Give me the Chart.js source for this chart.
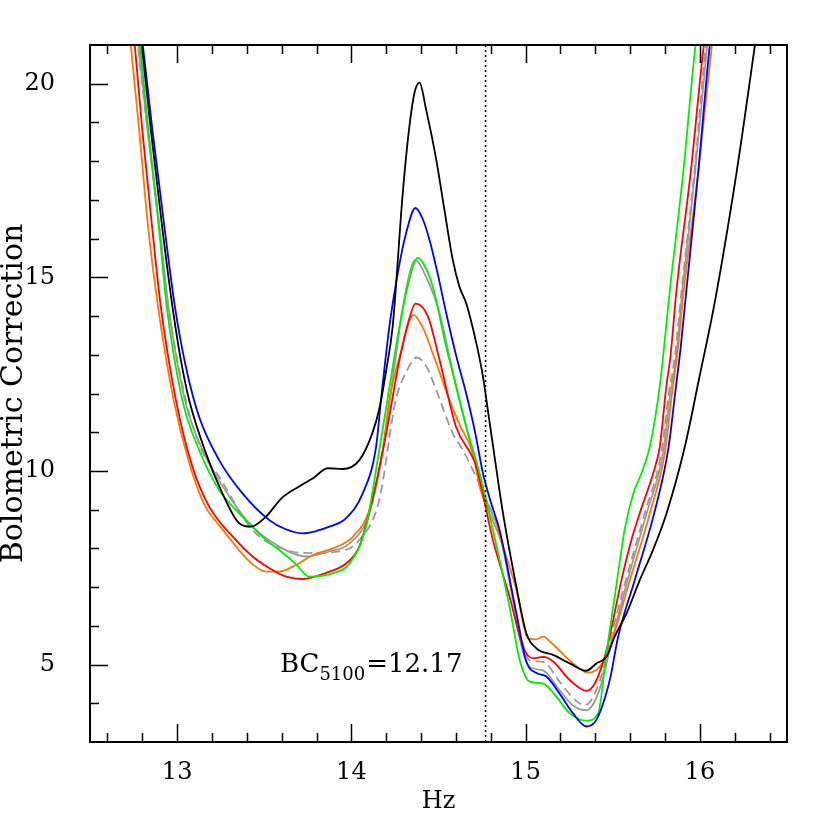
<!DOCTYPE html>
<html>
<head>
<meta charset="utf-8">
<script src="https://cdn.jsdelivr.net/npm/chart.js@4.4.0/dist/chart.umd.min.js"></script>
<style>
    html, body { margin: 0; padding: 0; background: #fff; }
    #wrap { width: 830px; height: 830px; }
</style>
</head>
<body>
<div id="wrap"><canvas id="bcChart" width="830" height="830"></canvas></div>
<script>
// axis ranges and labelled ticks
var xMin = 12.5, xMax = 16.5;
var yMin = 3, yMax = 21;
var xTicks = [13, 14, 15, 16];
var yTicks = [5, 10, 15, 20];
var nu5100 = 14.77;

// curves (log nu, BC)
var blackX = [12.775, 12.797, 12.849, 12.916, 12.973, 13.02, 13.069, 13.165, 13.26, 13.356, 13.424, 13.51, 13.6, 13.7, 13.78, 13.864, 13.95, 14.046, 14.12, 14.16, 14.2, 14.237, 14.295, 14.333, 14.362, 14.391, 14.429, 14.487, 14.534, 14.582, 14.62, 14.659, 14.717, 14.755, 14.783, 14.83, 14.87, 14.947, 15.004, 15.062, 15.158, 15.253, 15.349, 15.406, 15.464, 15.511, 15.579, 15.655, 15.73, 15.809, 15.914, 15.994, 16.088, 16.21, 16.316, 16.34];
var blackY = [22, 21, 18.81, 16.23, 14.25, 12.9, 11.83, 10.46, 9.42, 8.65, 8.56, 8.82, 9.3, 9.6, 9.81, 10.07, 10.05, 10.28, 10.97, 11.6, 12.6, 13.73, 17.18, 18.9, 19.76, 20.03, 19.33, 18.04, 16.74, 15.45, 14.76, 14.33, 13.3, 12.44, 11.58, 10.11, 8.91, 7.01, 5.81, 5.42, 5.25, 5.03, 4.84, 5.03, 5.2, 5.72, 6.32, 7.18, 7.95, 8.91, 10.63, 12.35, 14.42, 17.69, 21, 21.8];

var blueX = [12.78, 12.803, 12.858, 12.929, 12.987, 13.05, 13.126, 13.241, 13.375, 13.529, 13.62, 13.72, 13.8, 13.874, 13.97, 14.065, 14.142, 14.17, 14.218, 14.27, 14.314, 14.368, 14.41, 14.448, 14.5, 14.544, 14.6, 14.659, 14.71, 14.755, 14.8, 14.85, 14.947, 15.004, 15.062, 15.119, 15.195, 15.272, 15.349, 15.406, 15.483, 15.531, 15.626, 15.738, 15.82, 15.858, 15.89, 15.923, 15.99, 16.057, 16.08];
var blueY = [22, 21, 18.81, 16.23, 14.25, 12.69, 11.4, 10.28, 9.42, 8.73, 8.5, 8.39, 8.45, 8.56, 8.78, 9.42, 10.63, 11.83, 13.73, 15.2, 16.14, 16.79, 16.5, 15.97, 15.0, 14.08, 13.0, 12.0, 11.0, 9.94, 9.2, 8.48, 6.32, 5.08, 4.78, 4.69, 4.25, 3.74, 3.4, 3.57, 4.6, 5.72, 7.18, 8.91, 10.6, 12.0, 13.2, 14.68, 17.69, 21, 21.8];

var greenX = [12.765, 12.787, 12.835, 12.897, 12.94, 13.03, 13.126, 13.241, 13.375, 13.51, 13.586, 13.68, 13.759, 13.893, 13.989, 14.084, 14.16, 14.22, 14.276, 14.33, 14.381, 14.42, 14.467, 14.544, 14.6, 14.659, 14.736, 14.812, 14.908, 14.966, 15.023, 15.1, 15.176, 15.253, 15.349, 15.416, 15.464, 15.525, 15.569, 15.617, 15.665, 15.713, 15.77, 15.828, 15.904, 15.975, 16.0];
var greenY = [22, 21, 18.81, 16.23, 14.25, 11.83, 10.54, 9.51, 8.82, 8.22, 7.96, 7.6, 7.27, 7.36, 7.61, 8.56, 10.54, 12.2, 13.73, 14.9, 15.5, 15.3, 14.76, 13.21, 12.2, 11.15, 9.94, 8.48, 6.49, 5.12, 4.56, 4.51, 4.17, 3.74, 3.55, 3.74, 5.3, 7.18, 8.5, 9.4, 9.94, 10.63, 12.2, 14.68, 17.69, 21, 21.8];

var grayX = [12.756, 12.778, 12.83, 12.9, 12.95, 13.045, 13.14, 13.241, 13.433, 13.586, 13.74, 13.874, 13.989, 14.103, 14.18, 14.25, 14.31, 14.368, 14.42, 14.506, 14.58, 14.65, 14.77, 14.85, 14.93, 14.98, 15.023, 15.1, 15.195, 15.27, 15.349, 15.42, 15.5, 15.585, 15.695, 15.79, 15.83, 15.864, 15.9, 15.972, 16.042, 16.06];
var grayY = [22, 21, 18.81, 16.23, 14.25, 11.83, 10.6, 9.75, 8.56, 8.05, 7.79, 7.92, 8.13, 8.9, 10.54, 12.8, 14.6, 15.45, 15.1, 14.08, 12.6, 11.3, 9.3, 8.4, 6.6, 5.4, 4.94, 4.85, 4.34, 3.95, 3.82, 4.3, 5.7, 7.18, 8.91, 10.5, 12.0, 12.95, 14.68, 17.69, 21, 21.8];

var dashX = [12.753, 12.775, 12.83, 12.9, 12.95, 13.05, 13.14, 13.241, 13.433, 13.625, 13.778, 13.93, 14.046, 14.16, 14.255, 14.32, 14.375, 14.43, 14.487, 14.582, 14.64, 14.77, 14.85, 14.93, 14.98, 15.023, 15.1, 15.195, 15.27, 15.339, 15.42, 15.5, 15.575, 15.684, 15.78, 15.822, 15.856, 15.895, 15.968, 16.034, 16.055];
var dashY = [22, 21, 18.81, 16.23, 14.25, 11.83, 10.54, 9.85, 8.47, 7.96, 7.88, 7.92, 8.22, 9.25, 11.83, 12.6, 12.93, 12.7, 12.09, 10.97, 10.54, 9.3, 8.4, 6.7, 5.6, 5.11, 5.07, 4.56, 4.15, 3.95, 4.5, 5.9, 7.18, 8.91, 10.5, 12.0, 12.95, 14.68, 17.69, 21, 21.8];

var redX = [12.735, 12.757, 12.8, 12.858, 12.906, 12.993, 13.088, 13.184, 13.337, 13.433, 13.525, 13.625, 13.72, 13.874, 13.97, 14.046, 14.12, 14.2, 14.276, 14.33, 14.368, 14.439, 14.506, 14.6, 14.717, 14.812, 14.908, 14.985, 15.042, 15.1, 15.158, 15.253, 15.349, 15.397, 15.464, 15.55, 15.6, 15.655, 15.732, 15.77, 15.808, 15.831, 15.866, 15.947, 16.023, 16.05];
var redY = [22, 21, 18.81, 16.23, 14.25, 11.83, 10.11, 9.08, 8.22, 7.79, 7.5, 7.27, 7.21, 7.4, 7.61, 8.05, 9.25, 10.97, 12.87, 13.9, 14.32, 13.99, 12.87, 11.15, 10.11, 8.22, 6.75, 5.46, 5.16, 5.2, 5.08, 4.6, 4.32, 4.51, 5.37, 7.18, 8.1, 8.91, 9.94, 10.63, 12.2, 12.95, 14.68, 17.69, 21, 21.8];

var orangeX = [12.712, 12.734, 12.782, 12.835, 12.89, 12.98, 13.07, 13.16, 13.25, 13.308, 13.356, 13.43, 13.51, 13.586, 13.682, 13.778, 13.893, 14.008, 14.103, 14.18, 14.218, 14.28, 14.356, 14.41, 14.467, 14.563, 14.62, 14.697, 14.736, 14.85, 14.947, 15.013, 15.06, 15.1, 15.15, 15.272, 15.358, 15.425, 15.483, 15.598, 15.713, 15.8, 15.84, 15.87, 15.908, 15.99, 16.069, 16.09];
var orangeY = [22, 21, 18.81, 16.23, 14.25, 11.83, 10.2, 9.1, 8.55, 8.22, 7.95, 7.6, 7.4, 7.4, 7.57, 7.83, 8.0, 8.3, 8.99, 10.54, 11.83, 13.0, 14.03, 13.7, 13.04, 11.83, 11.2, 10.46, 9.6, 8.3, 6.93, 5.68, 5.65, 5.72, 5.55, 5.03, 4.79, 4.94, 5.46, 7.18, 8.91, 10.5, 12.0, 13.0, 14.68, 17.69, 21, 21.8];

var FONT = "'DejaVu Serif', serif";

function pts(xs, ys) {
    return xs.map(function (x, i) { return { x: x, y: ys[i] }; });
}

function curve(name, xs, ys, color, dash) {
    return {
        label: name,
        data: pts(xs, ys),
        borderColor: color,
        borderWidth: 1.8,
        borderDash: dash || [],
        pointRadius: 0,
        showLine: true,
        fill: false,
        cubicInterpolationMode: 'monotone'
    };
}

// inward ticks on bottom/top/left, frame, and the BC label
var axisFrame = {
    id: 'axisFrame',
    afterDatasetsDraw: function (chart) {
        var ctx = chart.ctx, a = chart.chartArea;
        var sx = chart.scales.x, sy = chart.scales.y;
        ctx.save();
        ctx.strokeStyle = '#000';
        ctx.lineWidth = 1.5;
        ctx.beginPath();
        for (var k = 63; k <= 82; k++) {
            var px = Math.round(sx.getPixelForValue(k / 5)) + 0.5;
            var len = (k % 5 == 0) ? 18 : 9;
            ctx.moveTo(px, a.bottom); ctx.lineTo(px, a.bottom - len);
            ctx.moveTo(px, a.top); ctx.lineTo(px, a.top + len);
        }
        for (var v = 4; v <= 20; v++) {
            var py = Math.round(sy.getPixelForValue(v)) + 0.5;
            var l2 = (v % 5 == 0) ? 18 : 9;
            ctx.moveTo(a.left, py); ctx.lineTo(a.left + l2, py);
        }
        ctx.stroke();
        ctx.lineWidth = 2;
        ctx.strokeRect(a.left, a.top, a.right - a.left, a.bottom - a.top);

        // BC_5100 = 12.17
        var tx = sx.getPixelForValue(13.59), ty = sy.getPixelForValue(4.81);
        ctx.fillStyle = '#000';
        ctx.textBaseline = 'alphabetic';
        ctx.font = '26px ' + FONT;
        ctx.fillText('BC', tx, ty);
        tx += ctx.measureText('BC').width;
        ctx.font = '18px ' + FONT;
        ctx.fillText('5100', tx, ty + 8);
        tx += ctx.measureText('5100').width + 1;
        ctx.font = '26px ' + FONT;
        ctx.fillText('=12.17', tx, ty);
        ctx.restore();
    }
};

// keep the plot box where the reference has it
function noPad(s) {
    s.paddingTop = 0;
    s.paddingBottom = 0;
}

var ctx = document.getElementById('bcChart').getContext('2d');
var bcChart = new Chart(ctx, {
    type: 'scatter',
    data: {
        datasets: [
            {
                label: 'nu5100',
                data: [{ x: nu5100, y: yMin }, { x: nu5100, y: yMax }],
                borderColor: '#000',
                borderWidth: 1.5,
                borderDash: [2, 3],
                pointRadius: 0,
                showLine: true,
                fill: false
            },
            curve('black', blackX, blackY, '#000000'),
            curve('blue', blueX, blueY, '#0000ff'),
            curve('green', greenX, greenY, '#00ee00'),
            curve('red', redX, redY, '#ff0000'),
            curve('orange', orangeX, orangeY, '#ff7700'),
            curve('gray', grayX, grayY, '#999999'),
            curve('gray dashed', dashX, dashY, '#999999', [9, 5])
        ]
    },
    options: {
        responsive: false,
        devicePixelRatio: 1,
        animation: false,
        layout: { padding: { left: 0, right: 43, top: 45, bottom: 0 } },
        plugins: {
            legend: { display: false },
            tooltip: { enabled: false }
        },
        scales: {
            x: {
                type: 'linear',
                min: xMin,
                max: xMax,
                grid: { display: false, drawTicks: false },
                border: { display: false },
                afterBuildTicks: function (s) { s.ticks = xTicks.map(function (v) { return { value: v }; }); },
                afterFit: function (s) { s.height = 88; noPad(s); },
                ticks: {
                    color: '#000',
                    font: { family: FONT, size: 24 },
                    padding: 16,
                    maxRotation: 0,
                    autoSkip: false
                },
                title: {
                    display: true,
                    text: 'Hz',
                    color: '#000',
                    font: { family: FONT, size: 24 },
                    padding: 14
                }
            },
            y: {
                type: 'linear',
                min: yMin,
                max: yMax,
                grid: { display: false, drawTicks: false },
                border: { display: false },
                afterBuildTicks: function (s) { s.ticks = yTicks.map(function (v) { return { value: v }; }); },
                afterFit: function (s) { s.width = 90; noPad(s); },
                ticks: {
                    color: '#000',
                    font: { family: FONT, size: 24 },
                    padding: 35,
                    autoSkip: false
                },
                title: {
                    display: true,
                    text: 'Bolometric Correction',
                    color: '#000',
                    font: { family: FONT, size: 30 },
                    padding: { top: -4, bottom: 0 }
                }
            }
        }
    },
    plugins: [axisFrame]
});
</script>
</body>
</html>
